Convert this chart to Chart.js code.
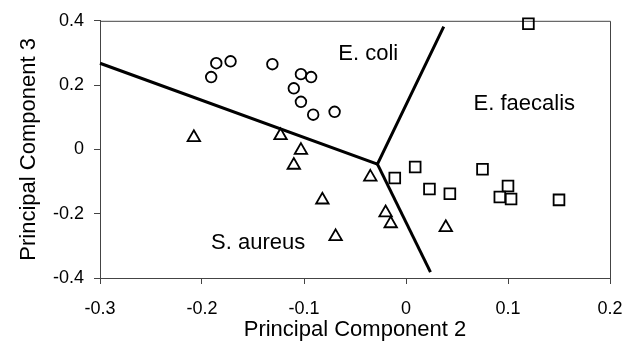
<!DOCTYPE html>
<html>
<head>
<meta charset="utf-8">
<script src="https://cdn.jsdelivr.net/npm/chart.js@4/dist/chart.umd.min.js"></script>
<style>
  html, body { margin: 0; padding: 0; background: #fff; }
  #wrap { width: 640px; height: 342px; }
</style>
</head>
<body>
<div id="wrap"><canvas id="c" width="640" height="342"></canvas></div>
<script>
// ---- Data ----
const eColiX = [-0.191, -0.186, -0.172, -0.131, -0.110, -0.103, -0.103, -0.093, -0.091, -0.070];
const eColiY = [0.225, 0.268, 0.274, 0.265, 0.190, 0.234, 0.148, 0.225, 0.108, 0.117];

const sAureusX = [-0.208, -0.123, -0.103, -0.110, -0.082, -0.069, -0.035, -0.020, -0.015, 0.039];
const sAureusY = [0.037, 0.043, -0.003, -0.049, -0.157, -0.271, -0.086, -0.197, -0.231, -0.243];

const eFaecalisX = [0.120, -0.011, 0.009, 0.023, 0.043, 0.075, 0.100, 0.092, 0.103, 0.150];
const eFaecalisY = [0.391, -0.089, -0.055, -0.123, -0.138, -0.062, -0.114, -0.148, -0.154, -0.157];

// Decision boundary lines (left end -> junction -> top end; junction -> bottom end)
const boundaryAX = [-0.300, -0.028, 0.037];
const boundaryAY = [0.268, -0.046, 0.382];
const boundaryBX = [-0.028, 0.024];
const boundaryBY = [-0.046, -0.382];

const regionLabels = ['E. coli', 'E. faecalis', 'S. aureus'];
const regionLabelX = [-0.037, 0.116, -0.145];
const regionLabelY = [0.298, 0.142, -0.292];

const xTicks = [-0.3, -0.2, -0.1, 0, 0.1, 0.2];
const yTicks = [-0.4, -0.2, 0, 0.2, 0.4];

const xTitle = 'Principal Component 2';
const yTitle = 'Principal Component 3';

// ---- Helpers ----
const pts = (xs, ys) => xs.map((x, i) => ({ x: x, y: ys[i] }));
const fmt = v => {
  const r = Math.round(v * 10) / 10;
  return r === 0 ? '0' : String(r);
};
const FONT = "'Liberation Sans', Arial, sans-serif";

const framePlugin = {
  id: 'frame',
  beforeDatasetsDraw(chart) {
    const { ctx, chartArea: a } = chart;
    ctx.save();
    ctx.strokeStyle = '#444';
    ctx.lineWidth = 1;
    ctx.beginPath();
    ctx.moveTo(a.left, a.top + 0.5);
    ctx.lineTo(a.right + 0.5, a.top + 0.5);
    ctx.lineTo(a.right + 0.5, a.bottom);
    ctx.stroke();
    ctx.restore();
  }
};

const labelPlugin = {
  id: 'regionLabels',
  afterDatasetsDraw(chart) {
    const { ctx, scales } = chart;
    ctx.save();
    ctx.fillStyle = '#000';
    ctx.font = '22px ' + FONT;
    ctx.textAlign = 'center';
    ctx.textBaseline = 'middle';
    regionLabels.forEach((t, i) => {
      ctx.fillText(t, scales.x.getPixelForValue(regionLabelX[i]), scales.y.getPixelForValue(regionLabelY[i]));
    });
    ctx.restore();
  }
};

const lineDs = (xs, ys) => ({
  data: pts(xs, ys),
  showLine: true,
  borderColor: '#000',
  borderWidth: 3,
  pointRadius: 0,
  fill: false,
  clip: false,
  order: 2
});

const markerDs = (xs, ys, style, r) => ({
  data: pts(xs, ys),
  pointStyle: style,
  pointRadius: r,
  pointBorderColor: '#000',
  pointBackgroundColor: 'rgba(255,255,255,0)',
  pointBorderWidth: 1.8,
  clip: false,
  order: 1
});

new Chart(document.getElementById('c'), {
  type: 'scatter',
  data: {
    datasets: [
      lineDs(boundaryAX, boundaryAY),
      lineDs(boundaryBX, boundaryBY),
      markerDs(eColiX, eColiY, 'circle', 5.3),
      markerDs(sAureusX, sAureusY, 'triangle', 7.2),
      markerDs(eFaecalisX, eFaecalisY, 'rect', 7.6)
    ]
  },
  options: {
    responsive: false,
    animation: false,
    layout: { padding: { top: 19, right: 30, left: 0, bottom: 0 } },
    plugins: { legend: { display: false }, tooltip: { enabled: false } },
    scales: {
      x: {
        type: 'linear',
        min: -0.3, max: 0.2,
        afterBuildTicks: s => { s.ticks = xTicks.map(v => ({ value: v })); },
        afterFit: s => { s.height = 64; },
        border: { display: true, color: '#444', width: 1 },
        grid: { display: true, drawOnChartArea: false, drawTicks: true, tickLength: 6, color: '#444' },
        ticks: { color: '#000', font: { family: FONT, size: 18 }, padding: 14, callback: v => fmt(v), maxRotation: 0 },
        title: { display: true, text: xTitle, color: '#000', font: { family: FONT, size: 22, lineHeight: 1 }, padding: { top: 0, bottom: 1 } }
      },
      y: {
        type: 'linear',
        min: -0.4, max: 0.4,
        afterBuildTicks: s => { s.ticks = yTicks.map(v => ({ value: v })); },
        afterFit: s => { s.width = 100; },
        border: { display: true, color: '#444', width: 1 },
        grid: { display: true, drawOnChartArea: false, drawTicks: true, tickLength: 6, color: '#444' },
        ticks: { color: '#000', font: { family: FONT, size: 18 }, padding: 10, callback: v => fmt(v) },
        title: { display: true, text: yTitle, color: '#000', font: { family: FONT, size: 22, lineHeight: 1 }, padding: { top: 18, bottom: 0 } }
      }
    }
  },
  plugins: [framePlugin, labelPlugin]
});
</script>
</body>
</html>
